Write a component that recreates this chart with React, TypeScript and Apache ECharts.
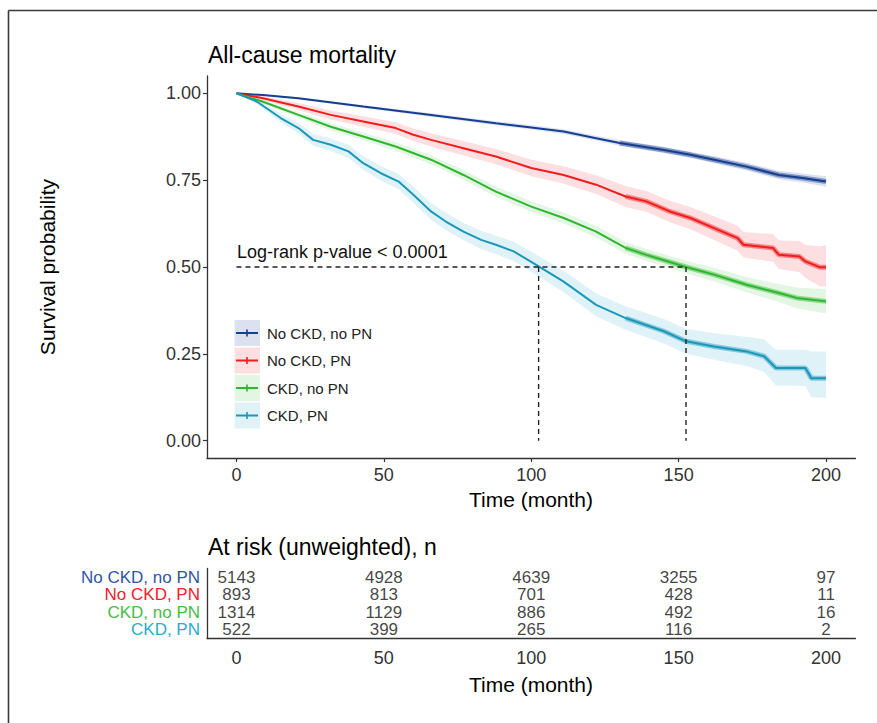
import React, { useEffect, useRef } from "react";
import * as echarts from "echarts";

const groups = ["No CKD, no PN", "No CKD, PN", "CKD, no PN", "CKD, PN"];
const lineColors = ["#173f8f", "#f21c1c", "#2fb52f", "#1b97b9"];
const bandColors = [
  "rgba(40,80,160,0.17)",
  "rgba(240,40,55,0.15)",
  "rgba(60,190,60,0.14)",
  "rgba(40,165,205,0.15)",
];
const riskLabelColors = ["#2f56a4", "#f2202a", "#47bd47", "#2aaccb"];

const timeTicks = [0, 50, 100, 150, 200];
const survTicks = [0, 0.25, 0.5, 0.75, 1];

// No CKD, no PN
const blueT = [0, 9, 21, 43, 66, 88, 100, 111, 122, 130, 145, 154, 162, 173, 184, 192, 200];
const blueS = [1, 0.995, 0.986, 0.962, 0.938, 0.914, 0.902, 0.89, 0.871, 0.857, 0.837, 0.823, 0.809, 0.789, 0.765, 0.756, 0.746];
const blueLo = [1, 0.993, 0.983, 0.958, 0.933, 0.908, 0.896, 0.883, 0.864, 0.849, 0.828, 0.814, 0.799, 0.778, 0.753, 0.743, 0.731];
const blueHi = [1, 0.997, 0.989, 0.966, 0.943, 0.92, 0.908, 0.897, 0.878, 0.865, 0.846, 0.832, 0.819, 0.8, 0.777, 0.769, 0.761];

// No CKD, PN
const redT = [0, 9, 21, 32, 43, 54, 60, 66, 77, 88, 100, 111, 122, 132, 139, 147, 154, 162, 170, 172, 182, 184, 191, 193, 198, 200];
const redS = [1, 0.986, 0.962, 0.938, 0.919, 0.9, 0.881, 0.866, 0.842, 0.818, 0.785, 0.765, 0.737, 0.703, 0.689, 0.66, 0.641, 0.612, 0.583, 0.564, 0.555, 0.535, 0.53, 0.516, 0.499, 0.499];
const redLo = [1, 0.98, 0.952, 0.925, 0.904, 0.883, 0.863, 0.847, 0.821, 0.796, 0.761, 0.74, 0.71, 0.673, 0.659, 0.629, 0.609, 0.578, 0.547, 0.527, 0.515, 0.494, 0.485, 0.469, 0.444, 0.444];
const redHi = [1, 0.992, 0.972, 0.951, 0.934, 0.917, 0.899, 0.885, 0.863, 0.84, 0.809, 0.79, 0.764, 0.733, 0.719, 0.691, 0.673, 0.646, 0.619, 0.601, 0.595, 0.576, 0.575, 0.563, 0.56, 0.564];

// CKD, no PN
const greenT = [0, 9, 21, 32, 43, 54, 66, 77, 88, 100, 111, 122, 132, 139, 152.5, 162, 173, 184, 190, 200];
const greenS = [1, 0.976, 0.938, 0.904, 0.876, 0.847, 0.809, 0.765, 0.717, 0.674, 0.641, 0.602, 0.555, 0.535, 0.5, 0.478, 0.449, 0.425, 0.411, 0.401];
const greenLo = [1, 0.971, 0.93, 0.894, 0.865, 0.835, 0.796, 0.751, 0.702, 0.659, 0.625, 0.586, 0.538, 0.518, 0.482, 0.458, 0.427, 0.399, 0.381, 0.366];
const greenHi = [1, 0.981, 0.946, 0.914, 0.887, 0.859, 0.822, 0.779, 0.732, 0.689, 0.657, 0.618, 0.572, 0.552, 0.518, 0.498, 0.471, 0.451, 0.441, 0.436];

// CKD, PN
const tealT = [0, 7, 15, 21, 26, 32, 38, 43, 49, 55, 60, 66, 71, 77, 83, 88, 94, 100, 111, 122, 132, 145, 152.5, 162, 173, 179, 183, 193, 195, 200];
const tealS = [1, 0.976, 0.929, 0.9, 0.866, 0.852, 0.833, 0.799, 0.77, 0.746, 0.708, 0.66, 0.631, 0.602, 0.578, 0.564, 0.545, 0.515, 0.458, 0.391, 0.353, 0.315, 0.286, 0.271, 0.257, 0.243, 0.209, 0.209, 0.18, 0.18];
const tealLo = [1, 0.969, 0.917, 0.885, 0.849, 0.834, 0.814, 0.779, 0.749, 0.724, 0.685, 0.636, 0.606, 0.577, 0.552, 0.537, 0.517, 0.486, 0.427, 0.358, 0.319, 0.28, 0.25, 0.233, 0.215, 0.198, 0.159, 0.157, 0.125, 0.123];
const tealHi = [1, 0.983, 0.941, 0.915, 0.883, 0.87, 0.852, 0.819, 0.791, 0.768, 0.731, 0.684, 0.656, 0.627, 0.604, 0.591, 0.573, 0.544, 0.489, 0.424, 0.387, 0.35, 0.322, 0.309, 0.299, 0.292, 0.262, 0.262, 0.257, 0.257];

// At-risk table
const riskTimes = [0, 50, 100, 150, 200];
const riskNoCkdNoPn = [5143, 4928, 4639, 3255, 97];
const riskNoCkdPn = [893, 813, 701, 428, 11];
const riskCkdNoPn = [1314, 1129, 886, 492, 16];
const riskCkdPn = [522, 399, 265, 116, 2];

// Median survival reference lines
const medianLevel = 0.5;
const medianTimes = [102.5, 152.5];
const censorStart = 130;

const FONT = '"Liberation Sans", Arial, sans-serif';

export default function App() {
  const ref = useRef<HTMLDivElement>(null);

  useEffect(() => {
    if (!ref.current) return;
    const chart = echarts.init(ref.current, undefined, { renderer: "svg" });

    const curves = [
      { t: blueT, s: blueS, lo: blueLo, hi: blueHi },
      { t: redT, s: redS, lo: redLo, hi: redHi },
      { t: greenT, s: greenS, lo: greenLo, hi: greenHi },
      { t: tealT, s: tealS, lo: tealLo, hi: tealHi },
    ];
    const risk = [riskNoCkdNoPn, riskNoCkdPn, riskCkdNoPn, riskCkdPn];

    const series: any[] = [];
    curves.forEach((c, gi) => {
      series.push({
        type: "custom",
        xAxisIndex: 0,
        yAxisIndex: 0,
        silent: true,
        clip: true,
        z: 1,
        data: c.t.map((v, i) => [v, c.lo[i], c.hi[i]]),
        encode: { x: 0, y: [1, 2] },
        renderItem: (params: any, api: any) => {
          if (params.dataIndex !== 0) return null;
          const pts: number[][] = [];
          for (let i = 0; i < c.t.length; i++) pts.push(api.coord([c.t[i], c.hi[i]]));
          for (let i = c.t.length - 1; i >= 0; i--) pts.push(api.coord([c.t[i], c.lo[i]]));
          return {
            type: "polygon",
            shape: { points: pts },
            style: { fill: bandColors[gi] },
            silent: true,
          };
        },
      });
    });
    curves.forEach((c, gi) => {
      const data = c.t.map((v, i) => [v, c.s[i]]);
      series.push({
        type: "line",
        xAxisIndex: 0,
        yAxisIndex: 0,
        data,
        symbol: "none",
        z: 3,
        lineStyle: { color: lineColors[gi], width: 2 },
        silent: true,
      });
      series.push({
        type: "line",
        xAxisIndex: 0,
        yAxisIndex: 0,
        data: data.filter((p) => p[0] >= censorStart),
        symbol: "none",
        z: 3,
        lineStyle: { color: lineColors[gi], width: 5, opacity: 0.45 },
        silent: true,
      });
    });
    const dash = { color: "#222", width: 1.4, type: [5, 4] };
    series.push({
      type: "line",
      data: [
        [0, medianLevel],
        [medianTimes[1], medianLevel],
      ],
      symbol: "none",
      z: 5,
      lineStyle: dash,
      silent: true,
    });
    medianTimes.forEach((m) =>
      series.push({
        type: "line",
        data: [
          [m, medianLevel],
          [m, 0],
        ],
        symbol: "none",
        z: 5,
        lineStyle: dash,
        silent: true,
      })
    );
    series.push({
      type: "scatter",
      xAxisIndex: 1,
      yAxisIndex: 1,
      symbolSize: 1,
      itemStyle: { color: "rgba(0,0,0,0)" },
      silent: true,
      data: risk.flatMap((row, ri) => riskTimes.map((t, i) => [t, ri, row[i]])),
      label: {
        show: true,
        position: "inside",
        formatter: (p: any) => String(p.value[2]),
        fontFamily: FONT,
        fontSize: 17,
        lineHeight: 16,
        color: "#111",
      },
    });

    const axisLine = { show: true, onZero: false, lineStyle: { color: "#333", width: 1.3 } };
    const axisTickStyle = { lineStyle: { color: "#333", width: 1.2 }, length: 4 };
    const labelStyle = { fontFamily: FONT, fontSize: 18, color: "#333" };

    const riskRich: any = {};
    groups.forEach((g, i) => {
      riskRich["r" + i] = { color: riskLabelColors[i], fontFamily: FONT, fontSize: 17, lineHeight: 16 };
    });

    const legendGraphics: any[] = [];
    const legendY = [333, 360.5, 388, 415.5];
    groups.forEach((g, i) => {
      const cy = legendY[i];
      legendGraphics.push(
        { type: "rect", shape: { x: 234.5, y: cy - 13, width: 25.5, height: 26 }, style: { fill: bandColors[i] }, silent: true },
        { type: "line", shape: { x1: 236, y1: cy, x2: 258, y2: cy }, style: { stroke: lineColors[i], lineWidth: 2 }, silent: true },
        { type: "line", shape: { x1: 247, y1: cy - 3.5, x2: 247, y2: cy + 3.5 }, style: { stroke: lineColors[i], lineWidth: 1.6 }, silent: true },
        { type: "text", x: 267, y: cy, style: { text: g, font: `15px ${FONT}`, fill: "#222", verticalAlign: "middle" }, silent: true }
      );
    });

    chart.setOption({
      animation: false,
      backgroundColor: "#fff",
      grid: [
        { left: 207, right: 21.5, top: 76, height: 382 },
        { left: 207, right: 21.5, top: 568.5, height: 70 },
      ],
      xAxis: [
        {
          type: "value",
          gridIndex: 0,
          min: -10,
          max: 210,
          splitLine: { show: false },
          axisLine,
          axisTick: { ...axisTickStyle, customValues: timeTicks },
          axisLabel: { ...labelStyle, margin: 8, customValues: timeTicks },
        },
        {
          type: "value",
          gridIndex: 1,
          min: -10,
          max: 210,
          splitLine: { show: false },
          axisLine,
          axisTick: { ...axisTickStyle, customValues: riskTimes },
          axisLabel: { ...labelStyle, margin: 10, customValues: riskTimes },
        },
      ],
      yAxis: [
        {
          type: "value",
          gridIndex: 0,
          min: -0.05,
          max: 1.05,
          splitLine: { show: false },
          axisLine,
          axisTick: { ...axisTickStyle, customValues: survTicks },
          axisLabel: {
            ...labelStyle,
            margin: 6,
            customValues: survTicks,
            formatter: (v: number) => v.toFixed(2),
          },
        },
        {
          type: "category",
          gridIndex: 1,
          data: groups,
          inverse: true,
          boundaryGap: true,
          splitLine: { show: false },
          axisLine,
          axisTick: { ...axisTickStyle, interval: 0, alignWithLabel: true },
          axisLabel: {
            margin: 7,
            interval: 0,
            hideOverlap: false,
            formatter: (v: string, i: number) => `{r${i}|${v}}`,
            rich: riskRich,
          },
        },
      ],
      series,
      graphic: [
        { type: "line", shape: { x1: 8.5, y1: 10.5, x2: 877, y2: 10.5 }, style: { stroke: "#3a3a3a", lineWidth: 1.6 }, silent: true },
        { type: "line", shape: { x1: 8.5, y1: 10.5, x2: 8.5, y2: 723 }, style: { stroke: "#3a3a3a", lineWidth: 1.6 }, silent: true },
        { type: "text", x: 208, y: 55, style: { text: "All-cause mortality", font: `23px ${FONT}`, fill: "#000", verticalAlign: "middle" }, silent: true },
        { type: "text", x: 47, y: 267, rotation: Math.PI / 2, style: { text: "Survival probability", font: `21px ${FONT}`, fill: "#000", align: "center", verticalAlign: "middle" }, silent: true },
        { type: "text", x: 531, y: 499, style: { text: "Time (month)", font: `21px ${FONT}`, fill: "#000", align: "center", verticalAlign: "middle" }, silent: true },
        { type: "text", x: 237, y: 252, style: { text: "Log-rank p-value < 0.0001", font: `18px ${FONT}`, fill: "#111", verticalAlign: "middle" }, silent: true },
        { type: "text", x: 208, y: 547, style: { text: "At risk (unweighted), n", font: `23px ${FONT}`, fill: "#000", verticalAlign: "middle" }, silent: true },
        { type: "text", x: 531, y: 684, style: { text: "Time (month)", font: `21px ${FONT}`, fill: "#000", align: "center", verticalAlign: "middle" }, silent: true },
        ...legendGraphics,
      ],
    });

    return () => chart.dispose();
  }, []);

  return (
    <div
      ref={ref}
      style={{ position: "absolute", left: 0, top: 0, width: 877, height: 723, background: "#fff" }}
    />
  );
}
